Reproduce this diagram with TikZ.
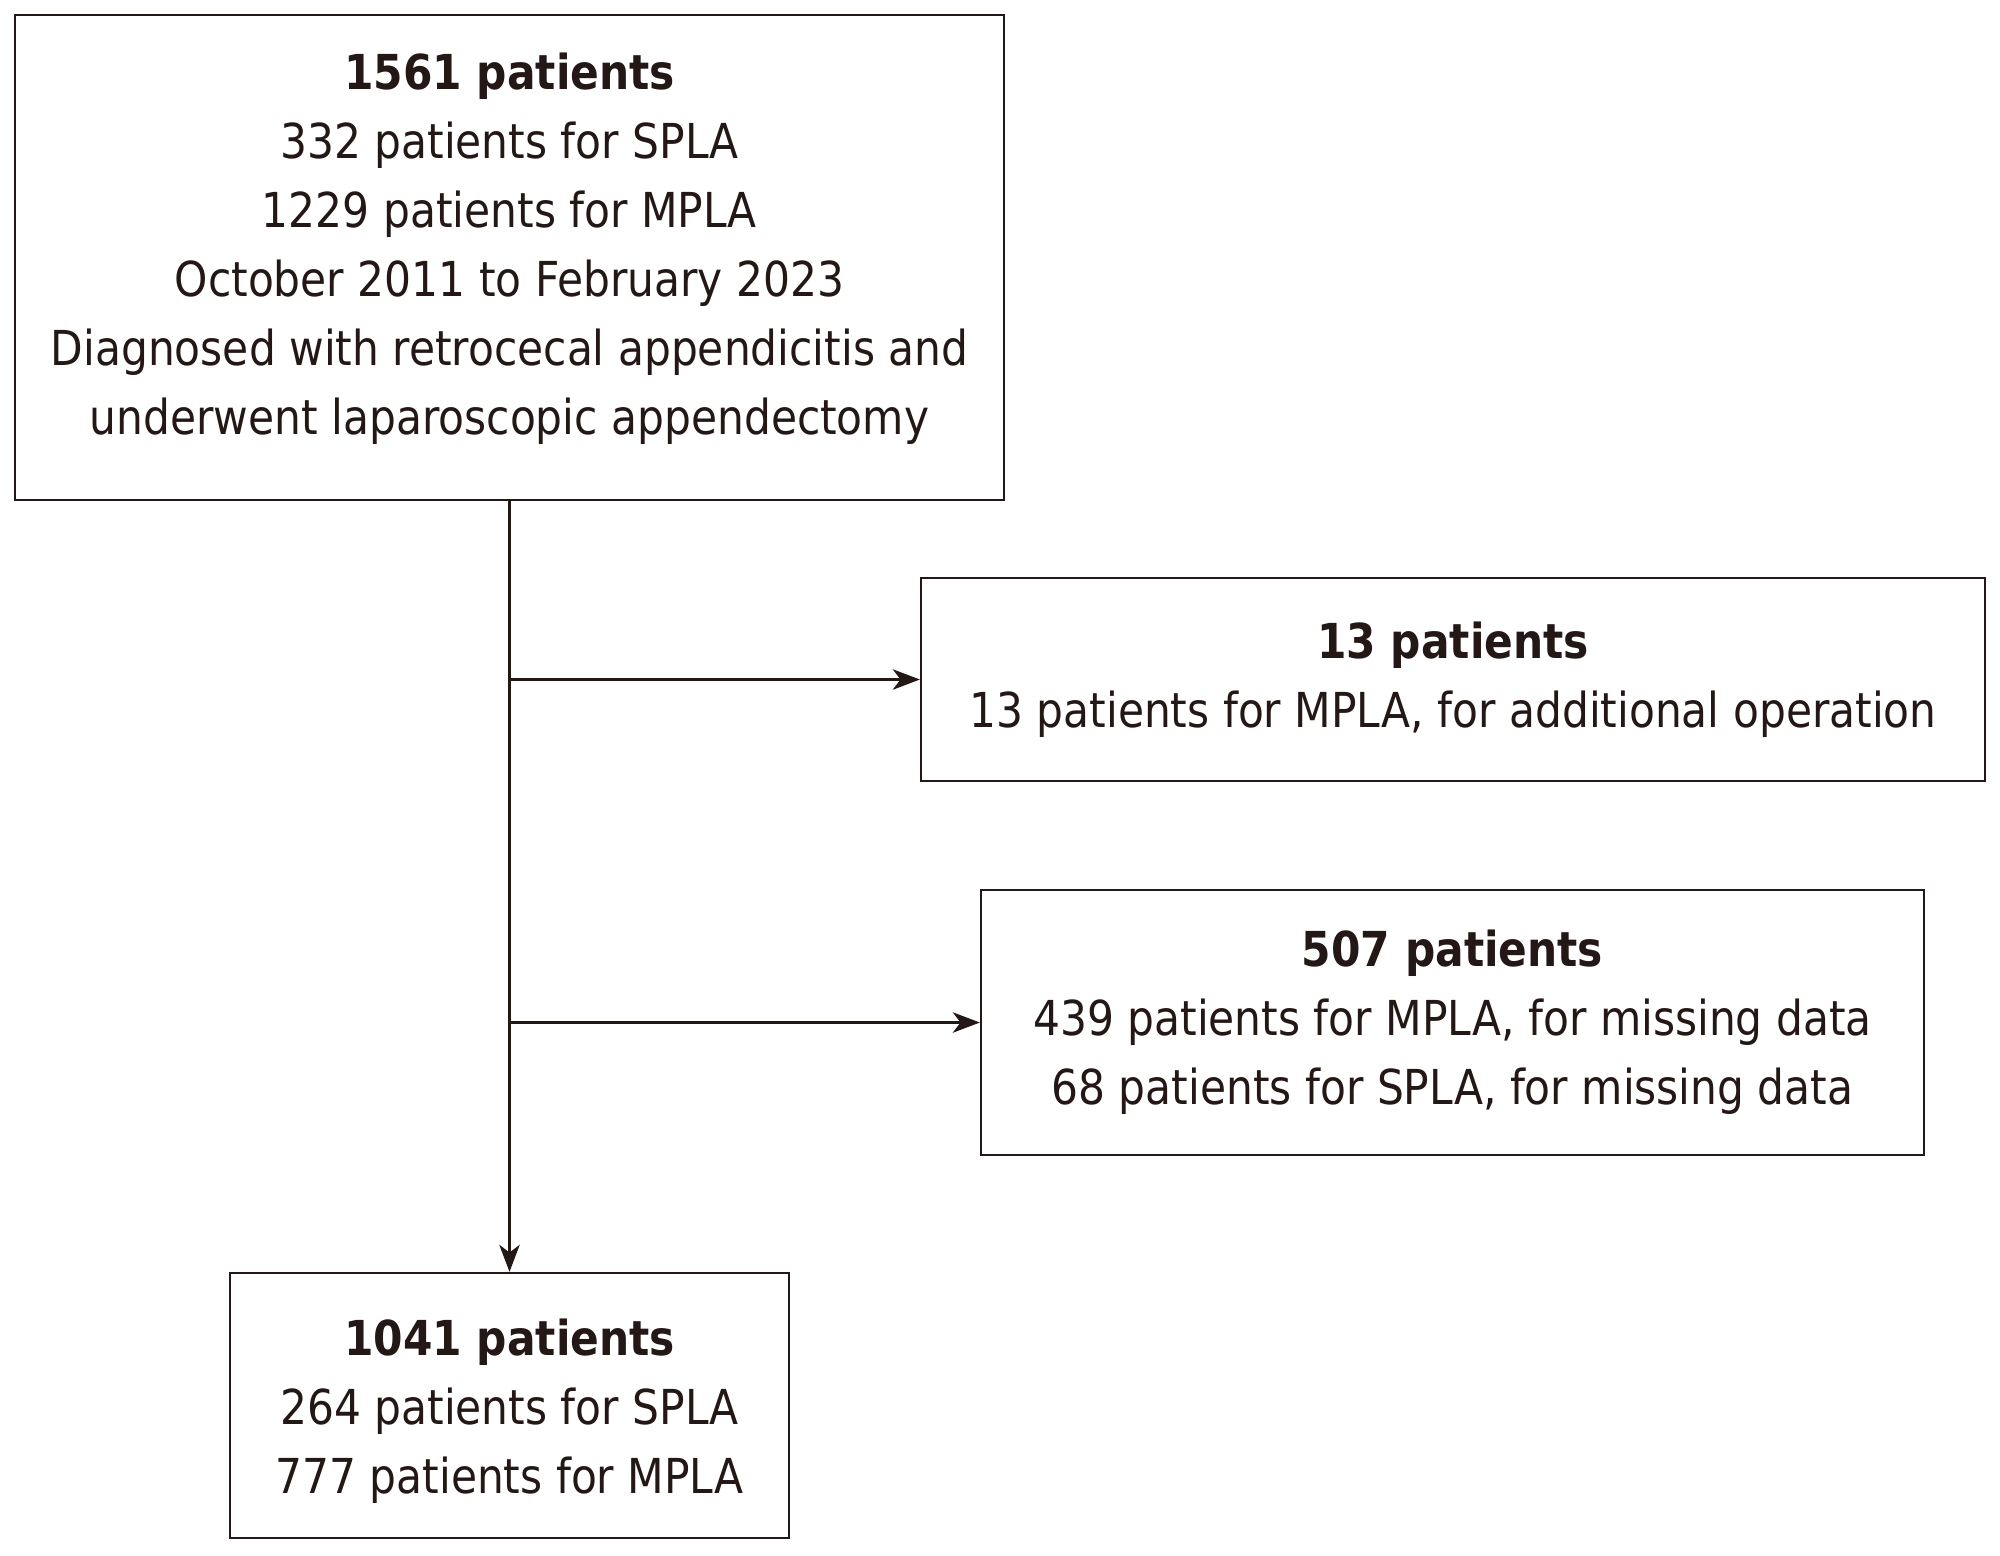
\documentclass[tikz,border=0pt]{standalone}
\usepackage{fontspec}
\setmainfont{DejaVu Sans}[FakeStretch=0.88]
\usetikzlibrary{arrows.meta}
\definecolor{ink}{HTML}{231815}
\begin{document}
\begin{tikzpicture}[
  box/.style={draw=ink, line width=0.65pt, align=center, inner sep=0pt, text=ink,
    font=\fontsize{13.7}{19.64}\selectfont},
  conn/.style={draw=ink, line width=0.75pt, -{Stealth[length=7.7pt, width=5.8pt, inset=2.2pt]}}
]
\useasboundingbox (0,0) rectangle (20,-15.55);
\fill[white] (0,0) rectangle (20,-15.55);

\node[box, minimum width=9.89cm, minimum height=4.85cm] (top) at (5.095,-2.575)
  {{\bfseries 1561 patients}\\332 patients for SPLA\\1229 patients for MPLA\\October 2011 to February 2023\\Diagnosed with retrocecal appendicitis and\\underwent laparoscopic appendectomy\rule[-8pt]{0pt}{0pt}};

\node[box, minimum width=10.64cm, minimum height=2.03cm] (b2) at (14.53,-6.795)
  {{\bfseries 13 patients}\\13 patients for MPLA, for additional operation};

\node[box, minimum width=9.43cm, minimum height=2.65cm] (b3) at (14.525,-10.225)
  {{\bfseries 507 patients}\\439 patients for MPLA, for missing data\\68 patients for SPLA, for missing data};

\node[box, minimum width=5.59cm, minimum height=2.65cm] (b4) at (5.095,-14.055)
  {{\bfseries\rule{0pt}{13.8pt}1041 patients}\\264 patients for SPLA\\777 patients for MPLA};

\coordinate (j1) at (top.south |- b2.west);
\coordinate (j2) at (top.south |- b3.west);

\draw[conn] (top.south) -- (b4.north);
\draw[conn] (j1) -- (b2.west);
\draw[conn] (j2) -- (b3.west);
\end{tikzpicture}
\end{document}
